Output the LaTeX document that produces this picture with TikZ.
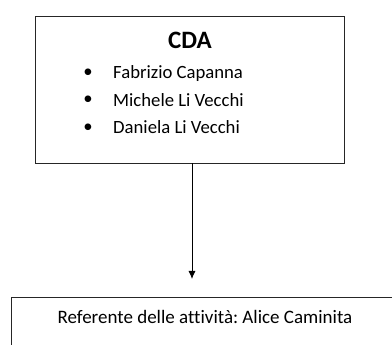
\documentclass[tikz,border=0pt]{standalone}
\usepackage{fontspec}
\setmainfont[Ligatures=NoCommon]{Carlito}
\usetikzlibrary{arrows.meta}
\frenchspacing
\begin{document}
\begin{tikzpicture}[x=1pt,y=-1pt,
  box/.style={draw=black!85,line width=0.9pt},
  member/.style={anchor=base west,font=\fontsize{18.7}{20}\selectfont,inner sep=0pt},
  bul/.style={anchor=center,font=\fontsize{18.7}{20}\selectfont,inner sep=0pt}]
\useasboundingbox (0,0) rectangle (392,345);
\clip (0,0) rectangle (392,345);
\node[box,minimum width=309pt,minimum height=147pt,inner sep=0pt] (top) at (189.5,89.5) {};
\node[inner sep=0pt,font=\fontsize{25}{28}\bfseries\selectfont] (cda) at (190,40) {CDA};
\node[member] (n1) at (113,79) {Fabrizio Capanna};
\node[member] (n2) at (113,106.5) {Michele Li Vecchi};
\node[member] (n3) at (113,134) {Daniela Li Vecchi};
\node[bul] (b1) at (88,73) {•};
\node[bul] (b2) at (88,100.5) {•};
\node[bul] (b3) at (88,128) {•};
\node[box,minimum width=420pt,minimum height=120pt,inner sep=0pt,anchor=north west] (bot) at (11,297) {};
\node[inner sep=0pt,font=\fontsize{19}{21}\selectfont] (ref) at (205,317) {Referente delle attività: Alice Caminita};
\coordinate (arr) at (192,279);
\draw[line width=0.9pt,-{Latex[length=8pt,width=7pt]}] (top.south -| arr) -- (arr);
\end{tikzpicture}
\end{document}
